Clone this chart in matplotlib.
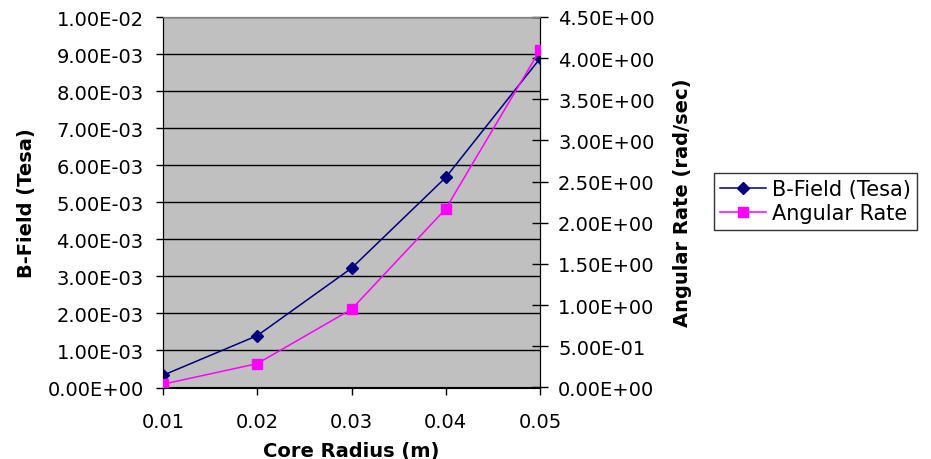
import matplotlib
matplotlib.use("Agg")
import matplotlib.pyplot as plt
from matplotlib.ticker import FuncFormatter, MultipleLocator

radius = [0.01, 0.02, 0.03, 0.04, 0.05]
b_field = [3.3e-4, 1.40e-3, 3.22e-3, 5.67e-3, 8.88e-3]
angular_rate = [0.04, 0.29, 0.95, 2.17, 4.10]
x_ticks = [0.01, 0.02, 0.03, 0.04, 0.05]

plt.rcParams['font.family'] = ['DejaVu Sans']
FS = 14
fig = plt.figure(figsize=(9.31, 4.6), dpi=100)
ax = fig.add_axes([163/931, 1-388.5/460, (540-163)/931, (388.5-18)/460])
ax.set_facecolor('#C0C0C0')
ax2 = ax.twinx()

l1, = ax.plot(radius, b_field, color='#000080', marker='D', markersize=6.5, lw=1.1,
              label='B-Field (Tesa)', zorder=3)
l2, = ax2.plot(radius, angular_rate, color='#FF00FF', marker='s', markersize=7, lw=1.1,
               label='Angular Rate', zorder=3)

ax.set_xlim(0.01, 0.05)
ax.set_ylim(0, 0.01)
ax2.set_ylim(0, 4.5)
ax.set_xticks(x_ticks)
ax.set_xticklabels([f"{v:.2f}" for v in x_ticks])
ax.yaxis.set_major_locator(MultipleLocator(0.001))
ax2.yaxis.set_major_locator(MultipleLocator(0.5))
ax.yaxis.set_major_formatter(FuncFormatter(lambda v, p: "%.2E" % v))
ax2.yaxis.set_major_formatter(FuncFormatter(lambda v, p: "%.2E" % v))
ax.grid(axis='y', color='black', lw=1.0)
ax.set_axisbelow(True)

ax.tick_params(axis='both', labelsize=FS, direction='out', length=5, width=1, color='black')
ax.tick_params(axis='y', pad=9)
ax.tick_params(axis='x', pad=13)
ax2.tick_params(axis='y', labelsize=FS, direction='inout', length=12, width=1, pad=7)

for a in (ax, ax2):
    a.spines['top'].set_color('#808080')
    a.spines['left'].set_color('black')
    a.spines['right'].set_color('black')
    a.spines['bottom'].set_color('black')

ax.set_xlabel('Core Radius (m)', fontsize=FS, fontweight='bold', labelpad=7)
ax.set_ylabel('B-Field (Tesa)', fontsize=FS, fontweight='bold', labelpad=8)
ax2.set_ylabel('Angular Rate (rad/sec)', fontsize=FS, fontweight='bold', labelpad=13)

leg = fig.legend(handles=[l1, l2], loc='upper left', bbox_to_anchor=(714/931, 1-174/460),
                 fontsize=15, frameon=True, fancybox=False, edgecolor='black',
                 handlelength=2.2, handletextpad=0.3, borderpad=0.3, labelspacing=0.2,
                 borderaxespad=0)
leg.get_frame().set_linewidth(1.0)

fig.savefig('out.png', dpi=100)
